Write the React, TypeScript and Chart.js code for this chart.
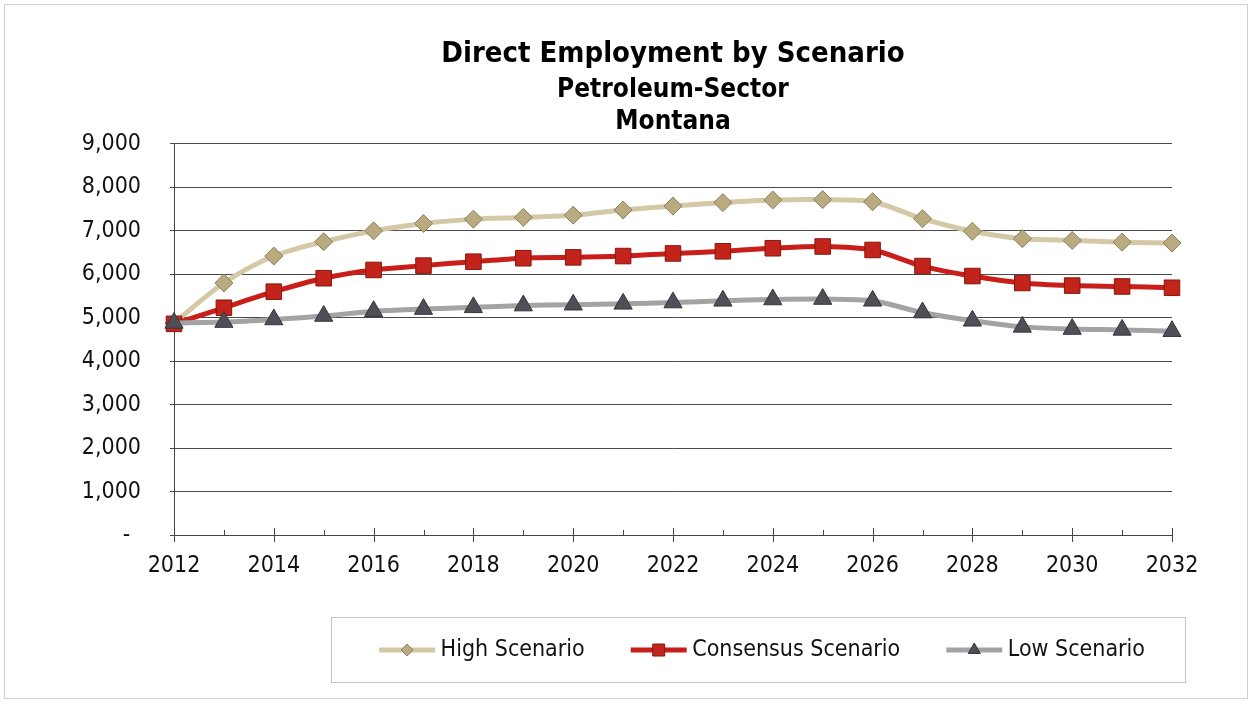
import React, { useEffect, useRef } from "react";
import { Chart, registerables } from "chart.js";

Chart.register(...registerables);

const years: string[] = [
  "2012", "2013", "2014", "2015", "2016", "2017", "2018", "2019", "2020", "2021", "2022",
  "2023", "2024", "2025", "2026", "2027", "2028", "2029", "2030", "2031", "2032",
];

const highScenario: number[] = [
  4880, 5800, 6420, 6750, 7000, 7170, 7270, 7310, 7360, 7480, 7570,
  7650, 7710, 7720, 7670, 7280, 6990, 6820, 6780, 6740, 6720,
];

const consensusScenario: number[] = [
  4860, 5230, 5600, 5910, 6100, 6200, 6290, 6370, 6390, 6420, 6480,
  6530, 6600, 6640, 6560, 6190, 5960, 5800, 5740, 5720, 5690,
];

const lowScenario: number[] = [
  4880, 4900, 4960, 5040, 5150, 5200, 5240, 5280, 5300, 5320, 5350,
  5390, 5420, 5430, 5390, 5120, 4930, 4790, 4740, 4720, 4690,
];

const seriesNames: string[] = ["High Scenario", "Consensus Scenario", "Low Scenario"];
const yTickValues: number[] = [0, 1000, 2000, 3000, 4000, 5000, 6000, 7000, 8000, 9000];

const FONT = "'DejaVu Sans Condensed', 'DejaVu Sans', sans-serif";

const styles = [
  { line: "#D5C8A6", fill: "#B9AA80", border: "#8C7F5C", shape: "rectRot", radius: 9 },
  { line: "#C91F1A", fill: "#C2231A", border: "#86170F", shape: "rect", radius: 11 },
  { line: "#A3A3A3", fill: "#4E4F57", border: "#36363C", shape: "triangle", radius: 10.5 },
];

function drawLegendMarker(ctx: CanvasRenderingContext2D, shape: string, x: number, y: number) {
  ctx.beginPath();
  if (shape === "rectRot") {
    const r = 6;
    ctx.moveTo(x, y - r);
    ctx.lineTo(x + r, y);
    ctx.lineTo(x, y + r);
    ctx.lineTo(x - r, y);
    ctx.closePath();
  } else if (shape === "rect") {
    const s = 6;
    ctx.rect(x - s, y - s, 2 * s, 2 * s);
  } else {
    const r = 7;
    ctx.moveTo(x, y - r);
    ctx.lineTo(x + r * 0.866, y + r / 2);
    ctx.lineTo(x - r * 0.866, y + r / 2);
    ctx.closePath();
  }
  ctx.fill();
  ctx.stroke();
}

const decorPlugin = {
  id: "decor",
  beforeDraw(chart: any) {
    const { ctx, width, height } = chart;
    ctx.save();
    ctx.fillStyle = "#ffffff";
    ctx.fillRect(0, 0, width, height);
    ctx.strokeStyle = "#d0d0d0";
    ctx.lineWidth = 1;
    ctx.strokeRect(4.5, 4.5, width - 9, height - 9);
    ctx.restore();
  },
  afterDraw(chart: any) {
    const { ctx } = chart;
    const xs = chart.scales.x;
    const bottom = chart.chartArea.bottom;
    ctx.save();
    ctx.strokeStyle = "#444";
    ctx.lineWidth = 1;
    xs.ticks.forEach((_t: any, i: number) => {
      const x = Math.round(xs.getPixelForTick(i)) + 0.5;
      ctx.beginPath();
      if (i % 2 === 0) {
        ctx.moveTo(x, bottom - 7);
        ctx.lineTo(x, bottom + 7);
      } else {
        ctx.moveTo(x, bottom - 5);
        ctx.lineTo(x, bottom);
      }
      ctx.stroke();
    });

    const lg = chart.legend;
    const hb = lg && lg.legendHitBoxes;
    if (hb && hb.length) {
      hb.forEach((box: any, i: number) => {
        const st = styles[i];
        const cy = box.top + box.height / 2;
        ctx.strokeStyle = st.line;
        ctx.lineWidth = 5;
        ctx.beginPath();
        ctx.moveTo(box.left, cy);
        ctx.lineTo(box.left + 56, cy);
        ctx.stroke();
        ctx.fillStyle = st.fill;
        ctx.strokeStyle = st.border;
        ctx.lineWidth = 1;
        drawLegendMarker(ctx, st.shape, box.left + 28, cy);
      });
      const first = hb[0];
      const last = hb[hb.length - 1];
      const cy = first.top + first.height / 2;
      ctx.strokeStyle = "#c4c4c4";
      ctx.lineWidth = 1;
      ctx.strokeRect(
        Math.round(first.left - 48) + 0.5,
        Math.round(cy - 33) + 0.5,
        Math.round(last.left + last.width + 40 - (first.left - 48)),
        65
      );
    }
    ctx.restore();
  },
};

export default function App() {
  const canvasRef = useRef<HTMLCanvasElement | null>(null);

  useEffect(() => {
    if (!canvasRef.current) return;
    const seriesData = [highScenario, consensusScenario, lowScenario];
    const chart = new Chart(canvasRef.current, {
      type: "line",
      data: {
        labels: years,
        datasets: seriesData.map((d, i) => ({
          label: seriesNames[i],
          data: d,
          borderColor: styles[i].line,
          backgroundColor: styles[i].fill,
          borderWidth: 5,
          tension: 0.3,
          pointStyle: styles[i].shape as any,
          pointRadius: styles[i].radius,
          pointBackgroundColor: styles[i].fill,
          pointBorderColor: styles[i].border,
          pointBorderWidth: 1,
          order: 2 - i,
        })),
      },
      options: {
        animation: false,
        responsive: true,
        maintainAspectRatio: false,
        layout: { padding: { left: 0, right: 61, top: 0, bottom: 31.5 } },
        plugins: {
          tooltip: { enabled: false },
          title: {
            display: true,
            text: "Direct Employment by Scenario",
            color: "#000",
            fullSize: false,
            font: { family: FONT, size: 29, weight: "bold", lineHeight: 1.2 },
            padding: { top: 36.6, bottom: 0 },
          },
          subtitle: {
            display: true,
            text: ["Petroleum-Sector", "Montana"],
            color: "#000",
            fullSize: false,
            font: { family: FONT, size: 26, weight: "bold", lineHeight: 1.23 },
            padding: { top: 2.6, bottom: 6 },
          },
          legend: {
            display: true,
            position: "bottom",
            align: "end",
            labels: {
              color: "#111",
              font: { family: FONT, size: 23 },
              boxWidth: 50,
              boxHeight: 10,
              padding: 46,
              generateLabels: (ch: any) =>
                ch.data.datasets.map((ds: any, i: number) => ({
                  text: ds.label,
                  fillStyle: "rgba(0,0,0,0)",
                  strokeStyle: "rgba(0,0,0,0)",
                  lineWidth: 0,
                  hidden: false,
                  datasetIndex: i,
                  fontColor: "#111",
                })),
            },
          },
        },
        scales: {
          x: {
            type: "category",
            offset: false,
            grid: { display: false, drawTicks: false },
            border: { display: true, color: "#444", width: 1 },
            ticks: {
              autoSkip: false,
              maxRotation: 0,
              color: "#111",
              padding: 17,
              font: { family: FONT, size: 23 },
              callback: (_v: any, i: number) => (i % 2 === 0 ? years[i] : ""),
            },
            afterFit: (scale: any) => {
              scale.height = 57.5;
              scale.paddingRight = 80;
            },
          },
          y: {
            min: 0,
            max: 9000,
            afterBuildTicks: (scale: any) => {
              scale.ticks = yTickValues.map((v) => ({ value: v }));
            },
            grid: { color: "#4a4a4a", lineWidth: 1, drawTicks: true, tickLength: 4 },
            border: { display: true, color: "#444", width: 1 },
            ticks: {
              color: "#111",
              padding: 29,
              font: { family: FONT, size: 23 },
              callback: (v: any) => (Number(v) === 0 ? "- \u2009" : Number(v).toLocaleString("en-US")),
            },
            afterFit: (scale: any) => {
              scale.width = 174;
            },
          },
        },
      },
      plugins: [decorPlugin],
    });
    return () => chart.destroy();
  }, []);

  return (
    <div style={{ position: "fixed", left: 0, top: 0, width: 1252, height: 703, background: "#fff" }}>
      <canvas ref={canvasRef} />
    </div>
  );
}
